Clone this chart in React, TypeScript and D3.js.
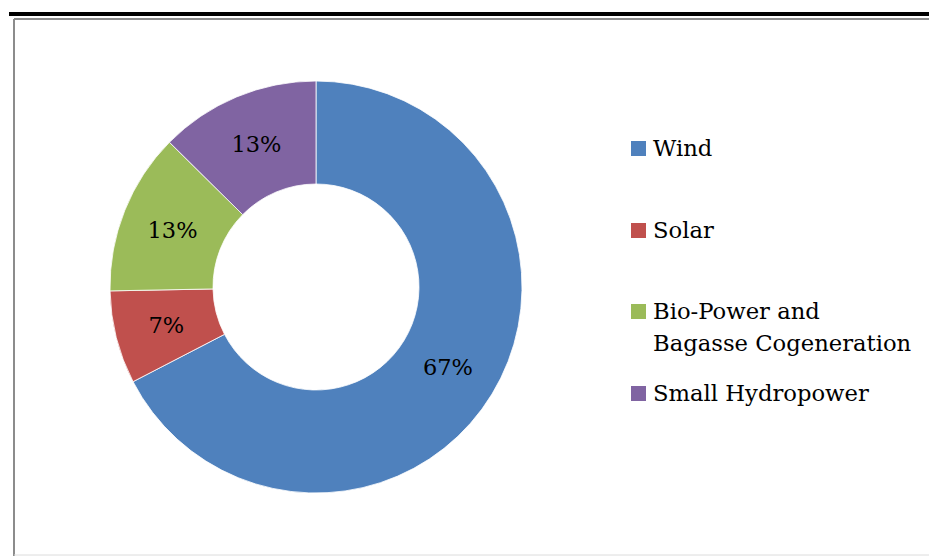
import React from "react";
import * as d3 from "d3";

const categories = ["Wind", "Solar", "Bio-Power and Bagasse Cogeneration", "Small Hydropower"];
const legendLines = [["Wind"], ["Solar"], ["Bio-Power and", "Bagasse Cogeneration"], ["Small Hydropower"]];
const shares = [67.4, 7.3, 12.7, 12.6];
const labels = ["67%", "7%", "13%", "13%"];
const colors = ["#4F81BD", "#C0504D", "#9BBB59", "#8064A2"];

const W = 929;
const H = 556;
const FONT = "'DejaVu Serif', 'Liberation Serif', serif";

export default function App() {
  const cx = 316;
  const cy = 287;
  const outerR = 206;
  const innerR = 103;
  const pie = d3.pie<number>().sort(null).value((d) => d);
  const arcs = pie(shares);
  const arc = d3.arc<d3.PieArcDatum<number>>().innerRadius(innerR).outerRadius(outerR);
  const legendY = [141, 223, 304, 386];

  return (
    <svg width={W} height={H} style={{ position: "absolute", left: 0, top: 0 }}>
      <rect x={0} y={0} width={W} height={H} fill="#fff" />
      <rect x={9} y={12} width={W - 9} height={4} fill="#000" />
      <line x1={14} y1={19} x2={W} y2={19} stroke="#8c8c8c" strokeWidth={2} />
      <line x1={14} y1={19} x2={14} y2={H} stroke="#8c8c8c" strokeWidth={2} />
      <line x1={14} y1={555} x2={W} y2={555} stroke="#dcdcdc" strokeWidth={1} />
      <g transform={`translate(${cx},${cy})`}>
        {arcs.map((a, i) => (
          <path key={categories[i]} d={arc(a) || ""} fill={colors[i]} stroke="#fff" strokeWidth={0.8} />
        ))}
        {arcs.map((a, i) => {
          const [x, y] = arc.centroid(a);
          return (
            <text key={"l" + i} x={x} y={y + 8} textAnchor="middle" fontFamily={FONT} fontSize={22.5} fill="#000">
              {labels[i]}
            </text>
          );
        })}
      </g>
      {legendLines.map((lines, i) => (
        <g key={"lg" + i}>
          <rect x={631} y={legendY[i]} width={15} height={15} fill={colors[i]} />
          <text x={653} y={legendY[i] + 15} fontFamily={FONT} fontSize={22.7} fill="#000">
            {lines.map((ln, j) => (
              <tspan key={j} x={653} dy={j === 0 ? 0 : 32}>
                {ln}
              </tspan>
            ))}
          </text>
        </g>
      ))}
    </svg>
  );
}
